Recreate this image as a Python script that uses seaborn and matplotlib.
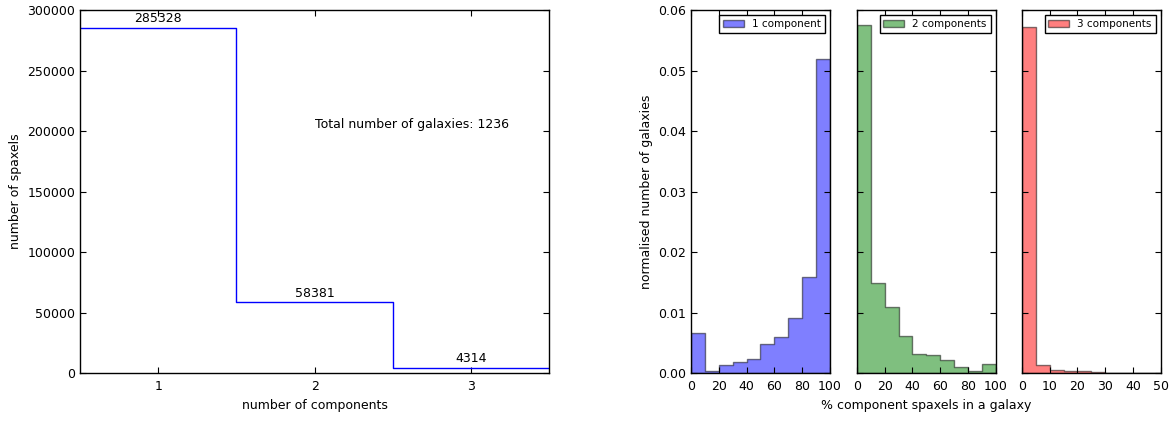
import numpy as np
import pandas as pd
import matplotlib
matplotlib.use("Agg")
import matplotlib.pyplot as plt
import seaborn as sns

# Spaxel counts per number of fitted components
n_components = [1, 2, 3]
n_spaxels = [285328, 58381, 4314]
total_galaxies = 1236

# Normalised distributions of the fraction of component spaxels per galaxy
edges_1 = [0, 10, 20, 30, 40, 50, 60, 70, 80, 90, 100]
dens_1 = [0.0066, 0.0003, 0.0014, 0.0018, 0.0023, 0.0048, 0.0060, 0.0091, 0.0158, 0.0519]

edges_2 = [0, 10, 20, 30, 40, 50, 60, 70, 80, 90, 100]
dens_2 = [0.0576, 0.0149, 0.0109, 0.0061, 0.0032, 0.0029, 0.0021, 0.0010, 0.0003, 0.0015]

edges_3 = [0, 5, 10, 15, 20, 25, 30, 35, 40, 45, 50]
dens_3 = [0.0572, 0.0014, 0.00055, 0.0003, 0.0004, 0.0002, 0.0, 0.0, 0.0, 0.00005]

plt.rcParams.update({
    "font.family": "DejaVu Sans",
    "font.size": 9.0,
    "xtick.direction": "in",
    "ytick.direction": "in",
    "xtick.top": True,
    "ytick.right": True,
    "xtick.major.size": 4,
    "ytick.major.size": 4,
    "xtick.major.pad": 5,
    "ytick.major.pad": 3.5,
    "axes.linewidth": 1.0,
    "axes.edgecolor": "black",
})

fig = plt.figure(figsize=(11.76, 4.21), dpi=100)

# Left panel: step histogram of spaxel counts
ax0 = fig.add_axes([0.068, 0.114, 0.399, 0.862])
sns.histplot(x=n_components, weights=n_spaxels, bins=[0.5, 1.5, 2.5, 3.5],
             element="step", fill=False, color="b", linewidth=1.0, ax=ax0)
for xc, v in zip(n_components, n_spaxels):
    ax0.text(xc, v + 2000, str(v), ha="center", va="bottom")
ax0.text(2.0, 200000, f"Total number of galaxies: {total_galaxies}",
         ha="left", va="bottom")
ax0.set_xlim(0.5, 3.5)
ax0.set_ylim(0, 300000)
ax0.set_xticks([1, 2, 3])
ax0.set_yticks(np.arange(0, 300001, 50000))
ax0.set_xlabel("number of components")
ax0.set_ylabel("number of spaxels")

# Right panels: per-galaxy fraction histograms (filled step outlines)
panels = [
    (edges_1, dens_1, "b", "1 component", 0.5876, [0, 20, 40, 60, 80, 100]),
    (edges_2, dens_2, "g", "2 components", 0.7287, [0, 20, 40, 60, 80, 100]),
    (edges_3, dens_3, "r", "3 components", 0.869, [0, 10, 20, 30, 40, 50]),
]
axes = []
for i, (edges, dens, col, lab, left, ticks) in enumerate(panels):
    ax = fig.add_axes([left, 0.114, 0.118, 0.862])
    centers = [(a + b) / 2 for a, b in zip(edges[:-1], edges[1:])]
    sns.histplot(x=centers, weights=dens, bins=edges, stat="count",
                 element="step", fill=True, color=col, alpha=0.5,
                 edgecolor=(0, 0, 0, 0.5), linewidth=1.0, label=lab, ax=ax)
    ax.set_xlim(edges[0], edges[-1])
    ax.set_ylim(0, 0.06)
    ax.set_xticks(ticks)
    ax.set_yticks(np.arange(0, 0.0601, 0.01))
    ax.set_ylabel("")
    ax.set_xlabel("")
    if i > 0:
        ax.set_yticklabels([])
    leg = ax.legend(loc="upper right", fontsize=7.5, fancybox=False,
                    framealpha=1, edgecolor="black", borderaxespad=0.5,
                    handlelength=2.0, borderpad=0.35)
    leg.get_frame().set_linewidth(1.0)
    axes.append(ax)

axes[0].set_ylabel("normalised number of galaxies")
axes[1].set_xlabel("% component spaxels in a galaxy")

fig.savefig("out.png", dpi=100)
